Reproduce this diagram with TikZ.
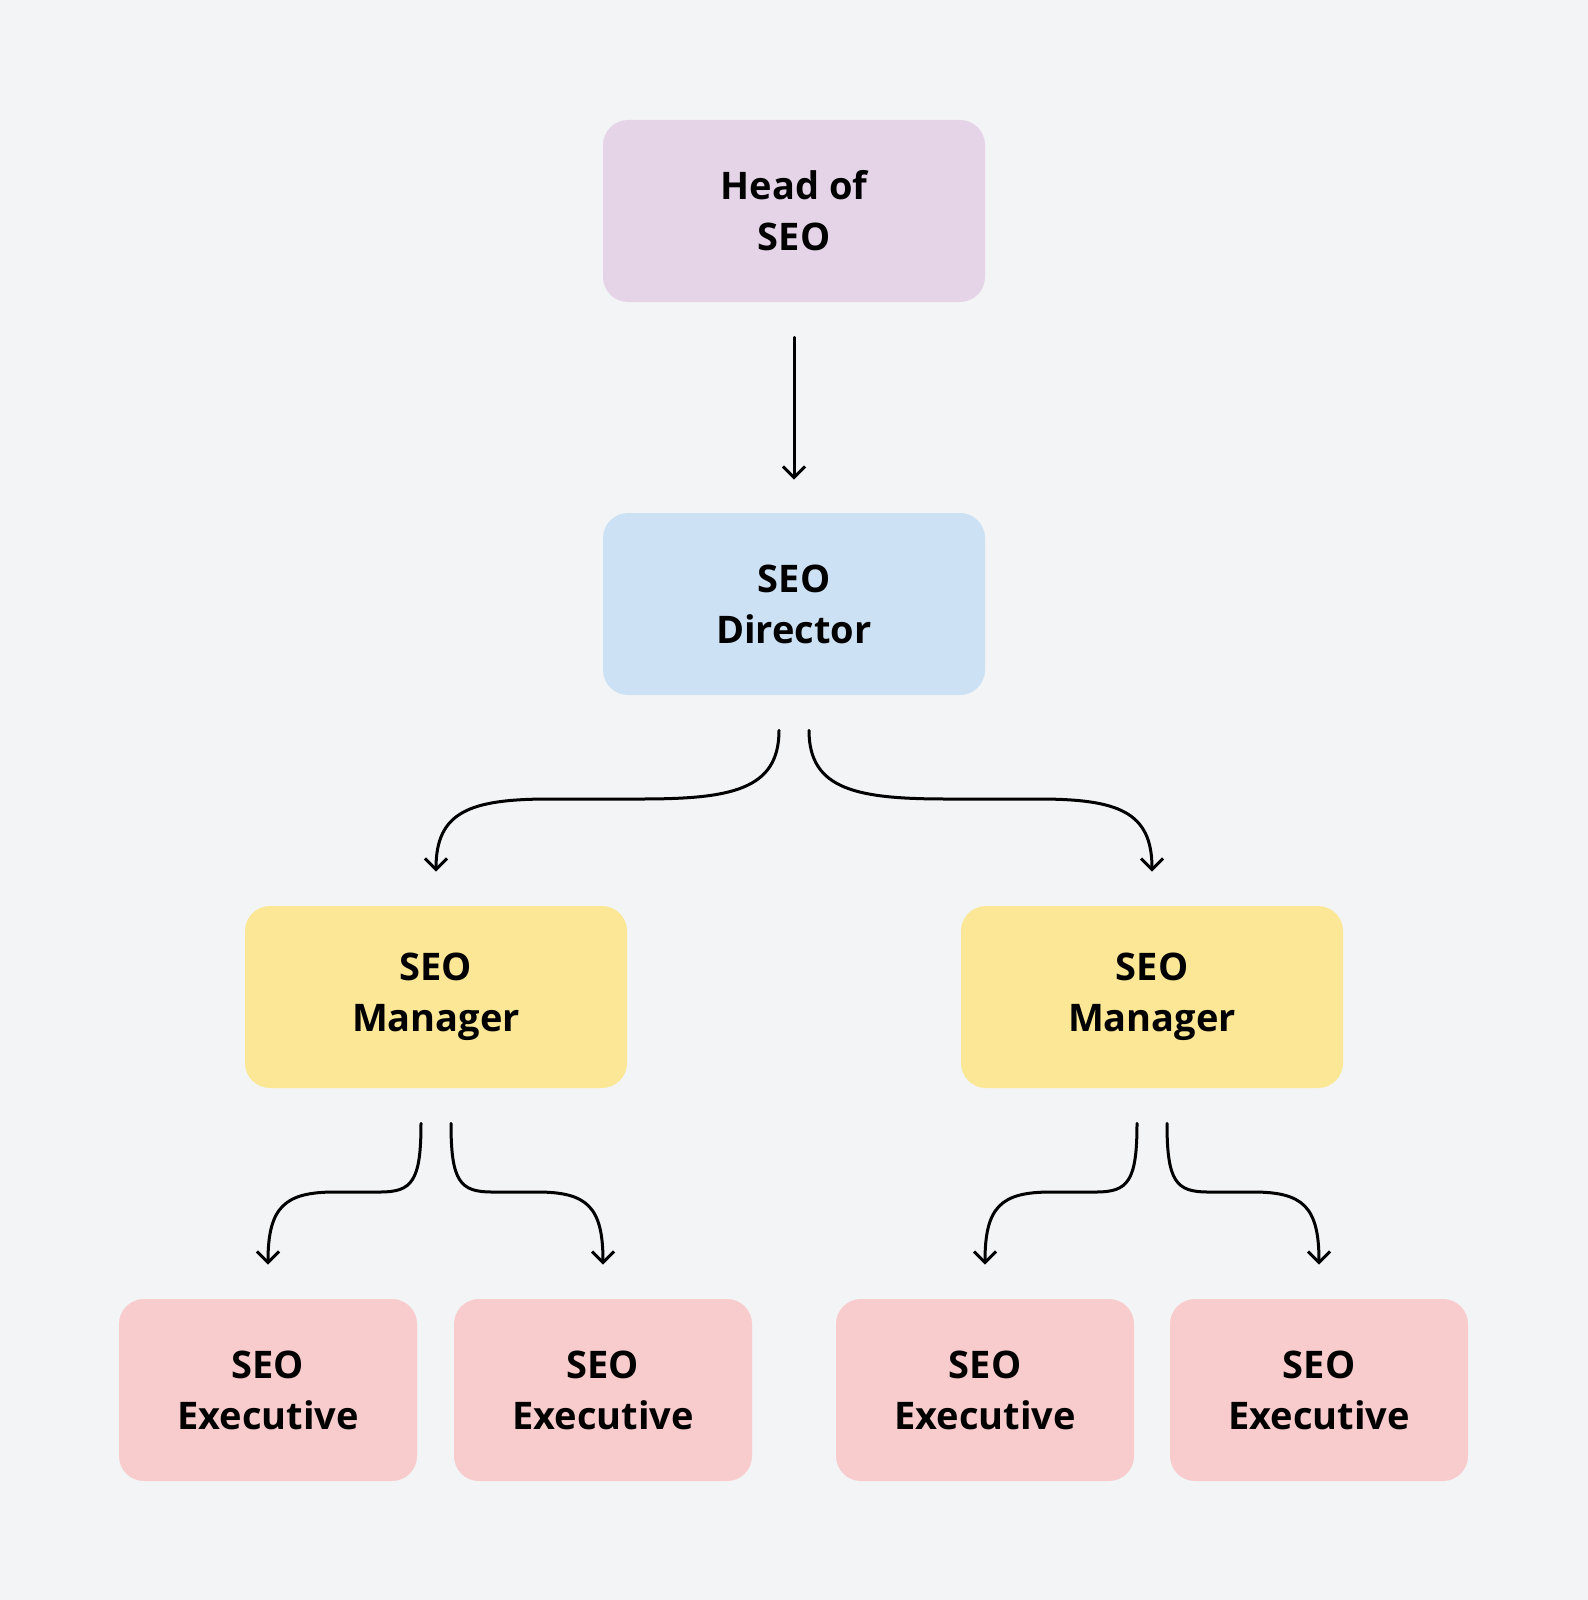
\documentclass[tikz,border=0pt]{standalone}
\usepackage{fontspec}
\setmainfont{Open Sans}
\usetikzlibrary{arrows.meta,calc}
\definecolor{bgc}{HTML}{F3F4F6}
\definecolor{headc}{HTML}{E5D4E8}
\definecolor{dirc}{HTML}{CDE1F5}
\definecolor{mgrc}{HTML}{FBE796}
\definecolor{exec}{HTML}{F8CBCC}
\tikzset{
  box/.style={rounded corners=12.5pt, minimum height=91pt, align=center, inner sep=0pt,
    font=\fontsize{19}{25.5}\selectfont\bfseries, text=black},
  wide/.style={box, minimum width=191pt},
  narrow/.style={box, minimum width=149pt},
  conn/.style={line width=1.5pt, line cap=round, -{Straight Barb[length=5.5pt,width=11pt,line width=1.5pt]}}
}
\begin{document}
\begin{tikzpicture}[x=0.5pt,y=-0.5pt]
\fill[bgc] (0,0) rectangle (1588,1600);
\useasboundingbox (0,0) rectangle (1588,1600);

\node[wide, fill=headc] (head) at (794,211) {Head of\\SEO};
\node[wide, fill=dirc] (dir) at (794,604) {SEO\\Director};
\node[wide, fill=mgrc] (mgrA) at (436,997) {SEO\\Manager};
\node[wide, fill=mgrc] (mgrB) at (1152,997) {SEO\\Manager};
\node[narrow, fill=exec] (exA) at (268,1390) {SEO\\Executive};
\node[narrow, fill=exec] (exB) at (603,1390) {SEO\\Executive};
\node[narrow, fill=exec] (exC) at (985,1390) {SEO\\Executive};
\node[narrow, fill=exec] (exD) at (1319,1390) {SEO\\Executive};

% head -> director
\draw[conn] ([yshift=-17.5pt]head.south) -- ([yshift=16.5pt]dir.north);

% director -> managers
\coordinate (dL) at ([xshift=-7.5pt,yshift=-17.5pt]dir.south);
\coordinate (dR) at ([xshift=7.5pt,yshift=-17.5pt]dir.south);
\coordinate (mAt) at ([yshift=17pt]mgrA.north);
\coordinate (mBt) at ([yshift=17pt]mgrB.north);
\draw[conn] (dL) .. controls ($(dL)+(0,60)$) and (730,799) .. (640,799) -- (550,799)
  .. controls (470,799) and ($(mAt)+(0,-60)$) .. (mAt);
\draw[conn] (dR) .. controls ($(dR)+(0,60)$) and (858,799) .. (948,799) -- (1038,799)
  .. controls (1118,799) and ($(mBt)+(0,-60)$) .. (mBt);

% manager A -> executives
\coordinate (aL) at ([xshift=-7.5pt,yshift=-17.5pt]mgrA.south);
\coordinate (aR) at ([xshift=7.5pt,yshift=-17.5pt]mgrA.south);
\coordinate (eAt) at ([yshift=17pt]exA.north);
\coordinate (eBt) at ([yshift=17pt]exB.north);
\draw[conn] (aL) .. controls ($(aL)+(0,58)$) and (412,1192) .. (380,1192) -- (335,1192)
  .. controls (285,1192) and ($(eAt)+(0,-58)$) .. (eAt);
\draw[conn] (aR) .. controls ($(aR)+(0,58)$) and (460,1192) .. (492,1192) -- (537,1192)
  .. controls (587,1192) and ($(eBt)+(0,-58)$) .. (eBt);

% manager B -> executives
\coordinate (bL) at ([xshift=-7.5pt,yshift=-17.5pt]mgrB.south);
\coordinate (bR) at ([xshift=7.5pt,yshift=-17.5pt]mgrB.south);
\coordinate (eCt) at ([yshift=17pt]exC.north);
\coordinate (eDt) at ([yshift=17pt]exD.north);
\draw[conn] (bL) .. controls ($(bL)+(0,58)$) and (1128,1192) .. (1096,1192) -- (1051,1192)
  .. controls (1001,1192) and ($(eCt)+(0,-58)$) .. (eCt);
\draw[conn] (bR) .. controls ($(bR)+(0,58)$) and (1176,1192) .. (1208,1192) -- (1253,1192)
  .. controls (1303,1192) and ($(eDt)+(0,-58)$) .. (eDt);
\end{tikzpicture}
\end{document}
